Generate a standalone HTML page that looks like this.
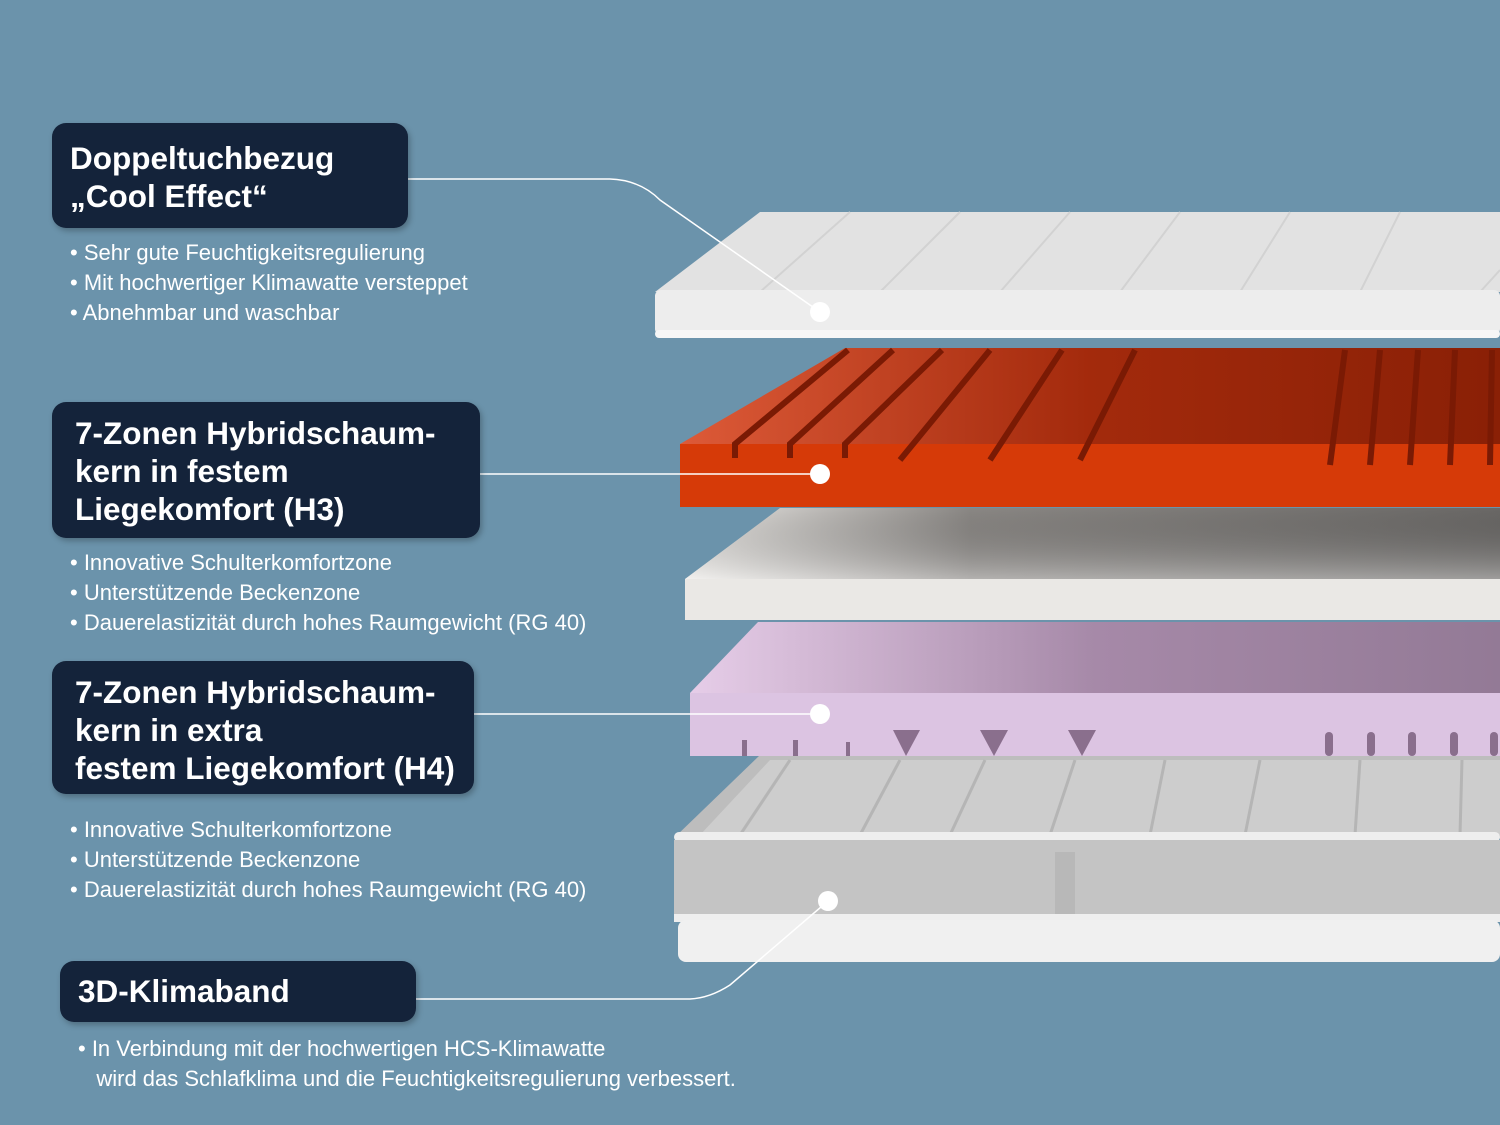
<!DOCTYPE html>
<html><head><meta charset="utf-8"><style>
body{margin:0;width:1500px;height:1125px;overflow:hidden;background:#6b93ab;font-family:"Liberation Sans",sans-serif;position:relative}
.box{position:absolute;background:#14233a;border-radius:14px;color:#fff;font-weight:bold;font-size:31.5px;line-height:38px;box-shadow:2px 3px 6px rgba(0,0,0,.25)}
.b{position:absolute;color:#fff;font-size:22px;line-height:30px;left:70px;letter-spacing:0px}
svg{position:absolute;left:0;top:0}
</style></head><body>
<svg width="1500" height="1125">
<defs>
<linearGradient id="og" x1="0" x2="1"><stop offset="0" stop-color="#dd5a38"/><stop offset=".5" stop-color="#a32a0c"/><stop offset="1" stop-color="#8a2006"/></linearGradient>
<linearGradient id="wg" x1="0" x2="1"><stop offset="0" stop-color="#ebe9e6"/><stop offset=".35" stop-color="#8a8784"/><stop offset="1" stop-color="#6a6866"/></linearGradient>
<linearGradient id="wv" x1="0" y1="0" x2="0" y2="1"><stop offset="0" stop-color="#000" stop-opacity="0"/><stop offset="1" stop-color="#fff" stop-opacity=".35"/></linearGradient>
<linearGradient id="lg" x1="0" x2="1"><stop offset="0" stop-color="#e6cde8"/><stop offset=".5" stop-color="#a689a8"/><stop offset="1" stop-color="#937a96"/></linearGradient>
</defs>
<path d="M674,838 L760,755 L1500,755 L1500,838 Z" fill="#bdbdbd"/>
<path d="M700,835 L770,760 L1500,760 L1500,835 Z" fill="#cdcdcd"/>
<g stroke="#b5b5b5" stroke-width="3"><path d="M740,835 L790,760 M860,835 L900,760 M950,835 L985,760 M1050,835 L1075,760 M1150,835 L1165,760 M1245,835 L1260,760 M1355,835 L1360,760 M1460,835 L1462,760"/></g>
<rect x="674" y="832" width="826" height="10" rx="5" fill="#eee"/>
<rect x="674" y="840" width="826" height="78" fill="#c4c4c4"/>
<rect x="1055" y="852" width="20" height="62" fill="#b8b8b8"/>
<rect x="674" y="914" width="826" height="8" fill="#eee"/>
<rect x="678" y="920" width="822" height="42" rx="8" fill="#f0f0f0"/>
<path d="M690,693 L758,622 L1500,622 L1500,693 Z" fill="url(#lg)"/>
<rect x="690" y="693" width="810" height="63" fill="#dcc4e2"/>
<g fill="#8a6f8d"><path d="M893,730 L920,730 L906,756 Z M980,730 L1008,730 L994,756 Z M1068,730 L1096,730 L1082,756 Z"/>
<rect x="1325" y="732" width="8" height="24" rx="4"/><rect x="1367" y="732" width="8" height="24" rx="4"/><rect x="1408" y="732" width="8" height="24" rx="4"/><rect x="1450" y="732" width="8" height="24" rx="4"/><rect x="1490" y="732" width="8" height="24" rx="4"/>
<rect x="742" y="740" width="5" height="16"/><rect x="793" y="740" width="5" height="16"/><rect x="846" y="742" width="4" height="14"/></g>
<path d="M685,579 L780,508 L1500,508 L1500,579 Z" fill="url(#wg)"/>
<path d="M685,579 L780,508 L1500,508 L1500,579 Z" fill="url(#wv)"/>
<rect x="685" y="579" width="815" height="41" fill="#eae8e5"/>
<path d="M680,444 L845,348 L1500,348 L1500,444 Z" fill="url(#og)"/>
<rect x="680" y="444" width="820" height="63" fill="#d63a08"/>
<g stroke="#7a1a04" stroke-width="6" fill="none">
<path d="M735,458 L735,444 L848,350 M790,458 L790,444 L893,350 M845,458 L845,444 L942,350 M900,460 L990,350 M990,460 L1062,350 M1080,460 L1135,350"/>
<path d="M1330,465 L1345,350 M1370,465 L1380,350 M1410,465 L1418,350 M1450,465 L1455,350 M1490,465 L1492,350"/>
</g>
<path d="M655,292 L760,212 L1500,212 L1500,292 Z" fill="#e2e2e2"/>
<g stroke="#d2d2d2" stroke-width="2"><path d="M760,292 L850,212 M880,292 L960,212 M1000,292 L1070,212 M1120,292 L1180,212 M1240,292 L1290,212 M1360,292 L1400,212 M1480,292 L1500,270"/></g>
<rect x="655" y="290" width="845" height="45" rx="6" fill="#ededed"/>
<rect x="655" y="330" width="845" height="8" rx="4" fill="#f6f6f6"/>
<g stroke="#fff" stroke-width="1.5" fill="none">
<path d="M408,179 L610,179 Q640,180 660,200 L820,312"/>
<path d="M480,474 L820,474"/>
<path d="M474,714 L820,714"/>
<path d="M416,999 L690,999 Q710,998 730,985 L828,901"/>
</g>
<g fill="#fff"><circle cx="820" cy="312" r="10"/><circle cx="820" cy="474" r="10"/><circle cx="820" cy="714" r="10"/><circle cx="828" cy="901" r="10"/></g>
</svg>
<div class="box" style="left:52px;top:123px;width:356px;height:105px;padding-left:18px;padding-top:16px;box-sizing:border-box">Doppeltuchbezug<br>„Cool Effect“</div>
<div class="b" style="top:238px">• Sehr gute Feuchtigkeitsregulierung<br>• Mit hochwertiger Klimawatte versteppet<br>• Abnehmbar und waschbar</div>
<div class="box" style="left:52px;top:402px;width:428px;height:136px;padding-left:23px;padding-top:12px;box-sizing:border-box">7-Zonen Hybridschaum-<br>kern in festem<br>Liegekomfort (H3)</div>
<div class="b" style="top:548px">• Innovative Schulterkomfortzone<br>• Unterstützende Beckenzone<br>• Dauerelastizität durch hohes Raumgewicht (RG 40)</div>
<div class="box" style="left:52px;top:661px;width:422px;height:133px;padding-left:23px;padding-top:12px;box-sizing:border-box">7-Zonen Hybridschaum-<br>kern in extra<br>festem Liegekomfort (H4)</div>
<div class="b" style="top:815px">• Innovative Schulterkomfortzone<br>• Unterstützende Beckenzone<br>• Dauerelastizität durch hohes Raumgewicht (RG 40)</div>
<div class="box" style="left:60px;top:961px;width:356px;height:61px;padding-left:18px;padding-top:11px;box-sizing:border-box">3D-Klimaband</div>
<div class="b" style="top:1034px;left:78px">• In Verbindung mit der hochwertigen HCS-Klimawatte<br>&nbsp;&nbsp;&nbsp;wird das Schlafklima und die Feuchtigkeitsregulierung verbessert.</div>
</body></html>
